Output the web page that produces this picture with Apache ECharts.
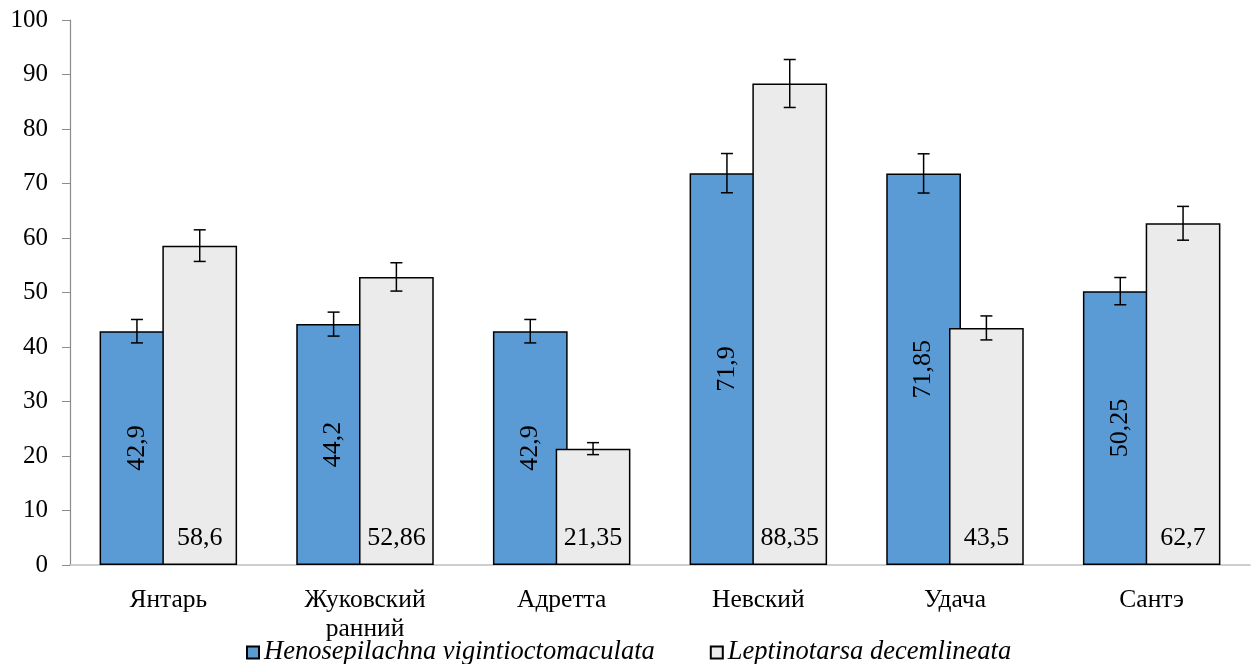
<!DOCTYPE html>
<html>
<head>
<meta charset="utf-8">
<script src="https://cdn.jsdelivr.net/npm/echarts@6/dist/echarts.min.js"></script>
<style>
html,body{margin:0;padding:0;background:#fff;}
#chart{width:1257px;height:664px;}
</style>
</head>
<body>
<div id="chart"></div>
<script>
const categories = ['Янтарь', 'Жуковский\nранний', 'Адретта', 'Невский', 'Удача', 'Сантэ'];
const seriesNames = ['Henosepilachna vigintioctomaculata', 'Leptinotarsa decemlineata'];
const henoValues = [42.9, 44.2, 42.9, 71.9, 71.85, 50.25];
const leptValues = [58.6, 52.86, 21.35, 88.35, 43.5, 62.7];
const henoErrors = [2.15, 2.2, 2.15, 3.6, 3.6, 2.5];
const leptErrors = [2.9, 2.6, 1.1, 4.4, 2.2, 3.1];
const yTicks = [0, 10, 20, 30, 40, 50, 60, 70, 80, 90, 100];

const FONT = '"Liberation Serif", "Times New Roman", serif';
const BAR_W = 0.38;     // fraction of band
const BAR_GAP = -0.16;  // fraction of bar width
const OFFSET = BAR_W * (1 + BAR_GAP) / 2; // centre offset as fraction of band

function fmt(v) { return String(v).replace('.', ','); }

function errorSeries(values, errors, sign) {
  return {
    type: 'custom',
    z: 10,
    silent: true,
    data: values.map((v, i) => [i, v, errors[i]]),
    renderItem: function (params, api) {
      const i = api.value(0), v = api.value(1), e = api.value(2);
      const band = api.size([1, 0])[0];
      const hi = api.coord([i, v + e]);
      const lo = api.coord([i, v - e]);
      const x = hi[0] + sign * OFFSET * band;
      const cap = 6;
      const style = { stroke: '#000', lineWidth: 1.5, fill: null };
      return {
        type: 'group',
        children: [
          { type: 'line', shape: { x1: x, y1: hi[1], x2: x, y2: lo[1] }, style: style },
          { type: 'line', shape: { x1: x - cap, y1: hi[1], x2: x + cap, y2: hi[1] }, style: style },
          { type: 'line', shape: { x1: x - cap, y1: lo[1], x2: x + cap, y2: lo[1] }, style: style }
        ]
      };
    }
  };
}

const chart = echarts.init(document.getElementById('chart'));
chart.setOption({
  animation: false,
  backgroundColor: '#fff',
  textStyle: { fontFamily: FONT },
  grid: { left: 70, right: 7, top: 20, bottom: 99, containLabel: false },
  legend: {
    data: seriesNames,
    left: 241,
    top: 634,
    itemGap: 55,
    itemWidth: 12,
    itemHeight: 12,
    icon: 'rect',
    textStyle: { fontFamily: FONT, fontSize: 26.5, fontStyle: 'italic', color: '#000', padding: [0, 0, 0, 0] }
  },
  xAxis: {
    type: 'category',
    data: categories,
    axisLine: { lineStyle: { color: '#bfbfbf', width: 1.5 } },
    axisTick: { show: false },
    axisLabel: { fontFamily: FONT, fontSize: 25.5, color: '#000', margin: 21, lineHeight: 29, interval: 0 }
  },
  yAxis: {
    type: 'value',
    min: 0, max: 100, interval: 10,
    splitLine: { show: false },
    axisLine: { show: true, lineStyle: { color: '#8c8c8c', width: 1.2 } },
    axisTick: { show: true, length: 8, lineStyle: { color: '#8c8c8c' } },
    axisLabel: {
      fontFamily: FONT, fontSize: 25, color: '#000', margin: 22,
      formatter: v => yTicks.includes(v) ? String(v) : ''
    }
  },
  series: [
    {
      name: seriesNames[0],
      type: 'bar',
      data: henoValues,
      barWidth: (BAR_W * 100) + '%',
      barGap: (BAR_GAP * 100) + '%',
      itemStyle: { color: '#5b9bd5', borderColor: '#000', borderWidth: 1.5 },
      label: {
        show: true, position: 'inside', rotate: 90,
        fontFamily: FONT, fontSize: 26, color: '#000',
        formatter: p => fmt(p.value)
      }
    },
    {
      name: seriesNames[1],
      type: 'bar',
      data: leptValues,
      barWidth: (BAR_W * 100) + '%',
      barGap: (BAR_GAP * 100) + '%',
      itemStyle: { color: '#ebebeb', borderColor: '#000', borderWidth: 1.5 },
      label: {
        show: true, position: 'insideBottom', distance: 14,
        fontFamily: FONT, fontSize: 26, color: '#000',
        formatter: p => fmt(p.value)
      }
    },
    errorSeries(henoValues, henoErrors, -1),
    errorSeries(leptValues, leptErrors, 1)
  ]
});
</script>
</body>
</html>
